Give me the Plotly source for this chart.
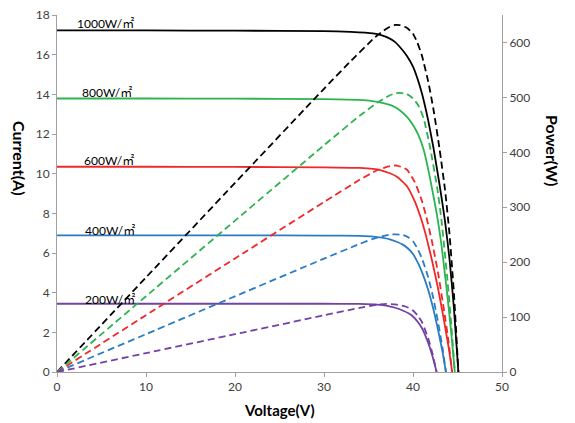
import plotly.graph_objects as go

# ---- data ----
labels = ["1000W/㎡", "800W/㎡", "600W/㎡", "400W/㎡", "200W/㎡"]
colors = ["#000000", "#2db34f", "#f0282a", "#2a7cc4", "#7442a2"]

v_1000 = [0, 10, 20, 30, 33, 35.5, 36.5, 37.4, 38.0, 38.5, 39.3, 40.0, 40.5, 41.0, 41.7, 42.3, 43.0, 43.6, 44.1, 44.6, 45.1]
i_1000 = [17.22, 17.22, 17.21, 17.19, 17.15, 17.07, 16.97, 16.81, 16.63, 16.4, 15.95, 15.4, 14.8, 14.05, 12.7, 11.3, 9.4, 7.6, 5.7, 3.2, 0]
p_1000 = [0, 172.2, 344.2, 515.7, 566.0, 606.0, 619.4, 628.7, 631.9, 631.4, 626.8, 616.0, 599.4, 576.1, 529.6, 478.0, 404.2, 331.4, 251.4, 142.7, 0]

v_800 = [0, 10, 20, 30, 34, 36, 37.4, 38.0, 38.5, 39.3, 40.0, 40.6, 41.2, 41.9, 42.7, 43.2, 43.9, 44.3, 44.7]
i_800 = [13.79, 13.79, 13.78, 13.76, 13.72, 13.62, 13.47, 13.35, 13.2, 12.88, 12.45, 11.95, 11.2, 9.8, 7.9, 6.4, 3.7, 1.95, 0]
p_800 = [0, 137.9, 275.6, 412.8, 466.5, 490.3, 503.8, 507.3, 508.2, 506.2, 498.0, 485.2, 461.4, 410.6, 337.3, 276.5, 162.4, 86.4, 0]

v_600 = [0, 10, 20, 30, 34, 35.5, 36.3, 37.4, 38.2, 39.3, 40.2, 41.0, 41.5, 42.1, 42.8, 43.5, 44.0, 44.4]
i_600 = [10.35, 10.35, 10.34, 10.32, 10.29, 10.24, 10.18, 10.02, 9.84, 9.38, 8.6, 7.6, 6.8, 5.7, 4.25, 2.55, 1.25, 0]
p_600 = [0, 103.5, 206.8, 309.6, 349.9, 363.5, 369.5, 374.7, 375.9, 368.6, 345.7, 311.6, 282.2, 240.0, 181.9, 110.9, 55.0, 0]

v_400 = [0, 10, 20, 30, 34, 35.5, 36.5, 37.4, 38.1, 38.9, 39.5, 40.0, 40.5, 41.0, 41.7, 42.3, 42.8, 43.3, 43.7]
i_400 = [6.89, 6.89, 6.89, 6.88, 6.86, 6.83, 6.77, 6.69, 6.58, 6.41, 6.2, 5.95, 5.55, 5.05, 4.15, 3.15, 2.15, 1.05, 0]
p_400 = [0, 68.9, 137.8, 206.4, 233.2, 242.5, 247.1, 250.2, 250.7, 249.3, 244.9, 238.0, 224.8, 207.1, 173.1, 133.2, 92.0, 45.5, 0]

v_200 = [0, 10, 20, 30, 34, 36.0, 37.0, 38.0, 38.9, 39.5, 40.0, 40.5, 41.0, 41.7, 42.2, 42.65]
i_200 = [3.44, 3.44, 3.44, 3.44, 3.43, 3.40, 3.35, 3.24, 3.09, 2.96, 2.8, 2.55, 2.22, 1.48, 0.78, 0]
p_200 = [0, 34.4, 68.8, 103.2, 116.6, 122.4, 124.0, 123.1, 120.2, 116.9, 112.0, 103.3, 91.0, 61.7, 32.9, 0]

label_y = [17.55, 14.1, 10.65, 7.13, 3.67]
label_x = [2.0, 2.55, 2.8, 2.9, 2.9]

x_ticks = [0, 10, 20, 30, 40, 50]
y_ticks = [0, 2, 4, 6, 8, 10, 12, 14, 16, 18]
y2_ticks = [0, 100, 200, 300, 400, 500, 600]

volts = [v_1000, v_800, v_600, v_400, v_200]
currents = [i_1000, i_800, i_600, i_400, i_200]
powers = [p_1000, p_800, p_600, p_400, p_200]

fig = go.Figure()
for v, p, c in zip(volts, powers, colors):
    fig.add_trace(go.Scatter(x=v, y=p, mode="lines", yaxis="y2",
                             line=dict(color=c, width=1.8, dash="7px,4px",
                                       shape="spline", smoothing=0.5),
                             showlegend=False, hoverinfo="skip"))
for v, i, c in zip(volts, currents, colors):
    fig.add_trace(go.Scatter(x=v, y=i, mode="lines",
                             line=dict(color=c, width=1.8, shape="spline", smoothing=0.5),
                             showlegend=False, hoverinfo="skip"))

tickfont = dict(family="Lato, Open Sans, sans-serif", size=12, color="#404040")
axis_common = dict(showgrid=False, zeroline=False, showline=True, linecolor="#a0a0a0",
                   linewidth=1, ticks="outside", ticklen=4, tickcolor="#a0a0a0",
                   tickfont=tickfont, automargin=False)

fig.update_layout(
    width=575, height=423,
    margin=dict(l=57, r=73, t=15, b=51, autoexpand=False),
    paper_bgcolor="white", plot_bgcolor="white",
    xaxis=dict(range=[0, 50], tickvals=x_ticks, **axis_common),
    yaxis=dict(range=[0, 18], tickvals=y_ticks, **axis_common),
    yaxis2=dict(range=[0, 650], tickvals=y2_ticks, overlaying="y", side="right",
                **axis_common),
)

for t, x, y in zip(labels, label_x, label_y):
    fig.add_annotation(x=x, y=y, text=t, showarrow=False, xanchor="left", yanchor="middle",
                       font=dict(family="Lato, Noto Sans CJK SC, sans-serif", size=12,
                                 color="#000000"))

vtitle_font = dict(family="Lato, Open Sans, sans-serif", size=16, color="#000000")
xtitle_font = dict(family="Lato, Open Sans, sans-serif", size=15, color="#000000")
fig.add_annotation(xref="x domain", yref="y domain", x=(20 - 57) / 445,
                   y=(372.3 - 158) / 357.6, text="<b>Current(A)</b>",
                   xanchor="center", yanchor="middle",
                   showarrow=False, textangle=90, font=vtitle_font)
fig.add_annotation(xref="x domain", yref="y domain", x=(553 - 57) / 445,
                   y=(372.3 - 150) / 357.6, text="<b>Power(W)</b>", showarrow=False,
                   xanchor="center", yanchor="middle",
                   textangle=90, font=vtitle_font)
fig.add_annotation(xref="x domain", yref="y domain", x=0.5,
                   y=(372.3 - 410) / 357.6, text="<b>Voltage(V)</b>", showarrow=False,
                   xanchor="center", yanchor="middle", font=xtitle_font)

fig.write_html("out.html", config={"displayModeBar": False},
               post_script="document.body.style.margin='0';")
